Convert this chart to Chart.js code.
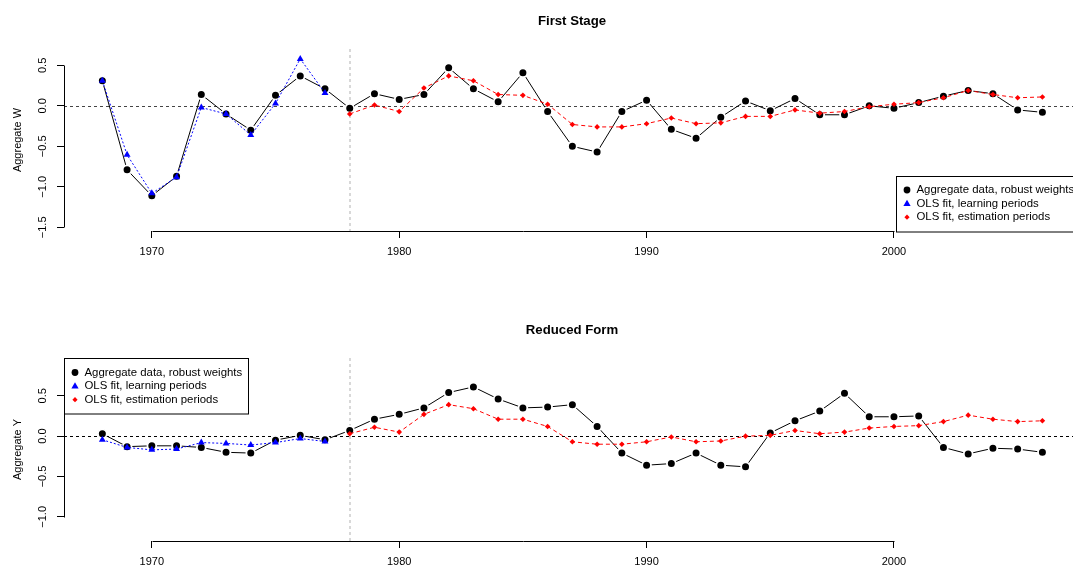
<!DOCTYPE html>
<html>
<head>
<meta charset="utf-8">
<script src="https://cdn.jsdelivr.net/npm/chart.js@4/dist/chart.umd.min.js"></script>
<style>
  html, body { margin: 0; padding: 0; background: #fff; overflow: hidden; width: 1073px; height: 568px; }
  canvas { position: absolute; left: 0; }
  #firstStage { top: 0; }
  #reducedForm { top: 284px; }
</style>
</head>
<body>
<canvas id="firstStage" width="1090" height="284"></canvas>
<canvas id="reducedForm" width="1090" height="284"></canvas>
<script>
// years on the x axis
const years = [1968, 1969, 1970, 1971, 1972, 1973, 1974, 1975, 1976, 1977,
  1978, 1979, 1980, 1981, 1982, 1983, 1984, 1985, 1986, 1987,
  1988, 1989, 1990, 1991, 1992, 1993, 1994, 1995, 1996, 1997,
  1998, 1999, 2000, 2001, 2002, 2003, 2004, 2005, 2006];
const learnYears = [1968, 1969, 1970, 1971, 1972, 1973, 1974, 1975, 1976, 1977];
const estYears = [1978, 1979, 1980, 1981, 1982, 1983, 1984, 1985, 1986, 1987,
  1988, 1989, 1990, 1991, 1992, 1993, 1994, 1995, 1996, 1997,
  1998, 1999, 2000, 2001, 2002, 2003, 2004, 2005, 2006];

// First stage (aggregate W)
const wAgg = [0.31, -0.79, -1.11, -0.87, 0.14, -0.10, -0.30, 0.13, 0.37, 0.21,
  -0.03, 0.15, 0.08, 0.14, 0.47, 0.21, 0.05, 0.41, -0.07, -0.50,
  -0.57, -0.07, 0.07, -0.29, -0.40, -0.14, 0.06, -0.06, 0.09, -0.11,
  -0.11, 0.00, -0.03, 0.04, 0.12, 0.19, 0.15, -0.05, -0.08];
const wLearn = [0.31, -0.605, -1.08, -0.88, -0.02, -0.10, -0.36, 0.03, 0.58, 0.16];
const wEst = [-0.10, 0.01, -0.07, 0.22, 0.37, 0.31, 0.14, 0.13, 0.02, -0.23,
  -0.26, -0.26, -0.22, -0.15, -0.22, -0.21, -0.13, -0.13, -0.05, -0.09,
  -0.07, -0.01, 0.02, 0.04, 0.10, 0.19, 0.14, 0.10, 0.11];

// Reduced form (aggregate Y)
const yAgg = [0.03, -0.13, -0.12, -0.12, -0.14, -0.20, -0.21, -0.05, 0.01, -0.045,
  0.07, 0.21, 0.27, 0.35, 0.54, 0.61, 0.46, 0.35, 0.36, 0.39,
  0.12, -0.21, -0.36, -0.34, -0.21, -0.36, -0.38, 0.04, 0.19, 0.31,
  0.53, 0.24, 0.24, 0.25, -0.14, -0.22, -0.15, -0.16, -0.20];
const yLearn = [-0.045, -0.14, -0.17, -0.16, -0.08, -0.09, -0.11, -0.08, -0.03, -0.066];
const yEst = [0.03, 0.11, 0.05, 0.27, 0.39, 0.34, 0.21, 0.21, 0.12, -0.07,
  -0.10, -0.10, -0.07, -0.01, -0.07, -0.06, 0.00, 0.01, 0.07, 0.03,
  0.05, 0.10, 0.12, 0.13, 0.18, 0.26, 0.21, 0.18, 0.19];

// tick labels
const xTicks = [1970, 1980, 1990, 2000];
const wTicks = [-1.5, -1.0, -0.5, 0.0, 0.5];
const wTickLabels = ['\u22121.5', '\u22121.0', '\u22120.5', '0.0', '0.5'];
const yTicks = [-1.0, -0.5, 0.0, 0.5];
const yTickLabels = ['\u22121.0', '\u22120.5', '0.0', '0.5'];
const legendLabels = ['Aggregate data, robust weights', 'OLS fit, learning periods', 'OLS fit, estimation periods'];
const splitYear = 1978;

const FONT = '"Liberation Sans", Arial, Helvetica, sans-serif';

function pts(xs, ys) {
  return xs.map((v, i) => ({ x: v, y: ys[i] }));
}

function drawSymbol(ctx, kind, cx, cy, r, color) {
  ctx.fillStyle = color;
  ctx.beginPath();
  if (kind === 'circle') {
    ctx.arc(cx, cy, r, 0, Math.PI * 2);
  } else if (kind === 'triangle') {
    ctx.moveTo(cx, cy - r);
    ctx.lineTo(cx + r * 0.95, cy + r * 0.65);
    ctx.lineTo(cx - r * 0.95, cy + r * 0.65);
    ctx.closePath();
  } else {
    ctx.moveTo(cx, cy - r);
    ctx.lineTo(cx + r, cy);
    ctx.lineTo(cx, cy + r);
    ctx.lineTo(cx - r, cy);
    ctx.closePath();
  }
  ctx.fill();
}

// R-like decorations: reference lines, axis lines, rotated y labels, title, legend
const rLook = {
  id: 'rLook',
  beforeDatasetsDraw(chart, args, opts) {
    const { ctx, chartArea: a, scales: { x, y } } = chart;
    ctx.save();
    ctx.strokeStyle = '#cccccc';
    ctx.lineWidth = 1.5;
    ctx.setLineDash([3, 3]);
    const vx = Math.round(x.getPixelForValue(splitYear));
    ctx.beginPath();
    ctx.moveTo(vx, a.top);
    ctx.lineTo(vx, a.bottom);
    ctx.stroke();

    ctx.strokeStyle = opts.zeroColor;
    ctx.lineWidth = 1;
    ctx.setLineDash([3, 3]);
    const zy = Math.round(y.getPixelForValue(0)) + 0.5;
    ctx.beginPath();
    ctx.moveTo(a.left, zy);
    ctx.lineTo(a.right, zy);
    ctx.stroke();
    ctx.restore();
  },
  afterDraw(chart, args, opts) {
    const { ctx, chartArea: a, scales: { x, y } } = chart;
    ctx.save();
    ctx.strokeStyle = '#000';
    ctx.lineWidth = 1;
    // axis lines only between first and last tick
    const bx = Math.round(a.bottom) + 0.5;
    ctx.beginPath();
    ctx.moveTo(Math.round(x.getPixelForValue(xTicks[0])) + 0.5, bx);
    ctx.lineTo(Math.round(x.getPixelForValue(xTicks[xTicks.length - 1])) + 0.5, bx);
    ctx.stroke();
    const lx = Math.round(a.left) + 0.5;
    ctx.beginPath();
    ctx.moveTo(lx, Math.round(y.getPixelForValue(opts.ticks[0])) + 0.5);
    ctx.lineTo(lx, Math.round(y.getPixelForValue(opts.ticks[opts.ticks.length - 1])) + 0.5);
    ctx.stroke();

    // rotated y tick labels
    ctx.fillStyle = '#000';
    ctx.font = '11px ' + FONT;
    ctx.textAlign = 'center';
    ctx.textBaseline = 'middle';
    opts.ticks.forEach((v, i) => {
      ctx.save();
      ctx.translate(a.left - 21, y.getPixelForValue(v));
      ctx.rotate(-Math.PI / 2);
      ctx.fillText(opts.tickLabels[i], 0, 0);
      ctx.restore();
    });
    // y axis title
    ctx.save();
    ctx.translate(a.left - 46, (a.top + a.bottom) / 2);
    ctx.rotate(-Math.PI / 2);
    ctx.fillText(opts.yTitle, 0, 0);
    ctx.restore();

    // main title
    ctx.font = 'bold 13.2px ' + FONT;
    ctx.fillText(opts.title, (a.left + a.right) / 2, opts.titleY);

    // legend box
    const w = 184, h = 55.5;
    const gx = opts.legendPos === 'bottomright' ? a.right - w : a.left;
    const gy = opts.legendPos === 'bottomright' ? a.bottom - h : a.top;
    ctx.fillStyle = '#fff';
    ctx.fillRect(gx, gy, w, h);
    ctx.strokeStyle = '#000';
    ctx.strokeRect(Math.round(gx) + 0.5, Math.round(gy) + 0.5, w, h);
    const syms = [['circle', 3.4, '#000000'], ['triangle', 3.8, '#0000ff'], ['diamond', 2.6, '#ff0000']];
    ctx.font = '11.4px ' + FONT;
    ctx.textAlign = 'left';
    legendLabels.forEach((t, i) => {
      const ry = gy + 14.5 + i * 13.6;
      drawSymbol(ctx, syms[i][0], gx + 11, ry, syms[i][1], syms[i][2]);
      ctx.fillStyle = '#000';
      ctx.fillText(t, gx + 20.5, ry);
    });
    ctx.restore();
  }
};

function makePanel(id, agg, learn, est, opts) {
  const ctx = document.getElementById(id).getContext('2d');
  return new Chart(ctx, {
    type: 'line',
    data: {
      datasets: [{
        label: legendLabels[2],
        data: pts(estYears, est),
        borderColor: '#ff0000',
        backgroundColor: '#ff0000',
        borderWidth: 1,
        borderDash: [4, 3],
        pointStyle: 'rectRot',
        pointRadius: 2.8,
        pointBorderWidth: 0,
        tension: 0
      }, {
        label: legendLabels[1],
        data: pts(learnYears, learn),
        borderColor: '#0000ff',
        backgroundColor: '#0000ff',
        borderWidth: 1,
        borderDash: [2, 2],
        pointStyle: 'triangle',
        pointRadius: 4,
        pointBorderWidth: 0,
        tension: 0
      }, {
        // white ring keeps the line off the dots, like R's type = "b"
        label: legendLabels[0],
        data: pts(years, agg),
        borderColor: '#000000',
        backgroundColor: '#000000',
        borderWidth: 1,
        pointStyle: 'circle',
        pointRadius: 4.4,
        pointBorderWidth: 1.8,
        pointBorderColor: '#ffffff',
        tension: 0
      }]
    },
    options: {
      responsive: false,
      animation: false,
      devicePixelRatio: 1,
      layout: { padding: { top: opts.padTop, right: 10, left: 0, bottom: 0 } },
      plugins: {
        legend: { display: false },
        tooltip: { enabled: false },
        rLook: opts
      },
      scales: {
        x: {
          type: 'linear',
          min: 1966.45,
          max: 2007.52,
          afterBuildTicks: (s) => { s.ticks = xTicks.map(v => ({ value: v })); },
          afterFit: (s) => { s.height = opts.xHeight; },
          grid: { drawOnChartArea: false, tickLength: 7, color: '#000', lineWidth: 1 },
          border: { display: false },
          ticks: {
            color: '#000',
            padding: 7,
            maxRotation: 0,
            font: { family: FONT, size: 11 },
            callback: (v) => String(v)
          }
        },
        y: {
          min: opts.yMin,
          max: opts.yMax,
          afterBuildTicks: (s) => { s.ticks = opts.ticks.map(v => ({ value: v })); },
          afterFit: (s) => { s.width = 64; },
          grid: { drawOnChartArea: false, tickLength: 7, color: '#000', lineWidth: 1 },
          border: { display: false },
          ticks: { display: false }
        }
      }
    },
    plugins: [rLook]
  });
}

makePanel('firstStage', wAgg, wLearn, wEst, {
  title: 'First Stage', titleY: 21, yTitle: 'Aggregate W',
  ticks: wTicks, tickLabels: wTickLabels,
  yMin: -1.545, yMax: 0.702, padTop: 49, xHeight: 53,
  zeroColor: '#444444', legendPos: 'bottomright'
});

makePanel('reducedForm', yAgg, yLearn, yEst, {
  title: 'Reduced Form', titleY: 46, yTitle: 'Aggregate Y',
  ticks: yTicks, tickLabels: yTickLabels,
  yMin: -1.299, yMax: 0.968, padTop: 74, xHeight: 27,
  zeroColor: '#000000', legendPos: 'topleft'
});
</script>
</body>
</html>
